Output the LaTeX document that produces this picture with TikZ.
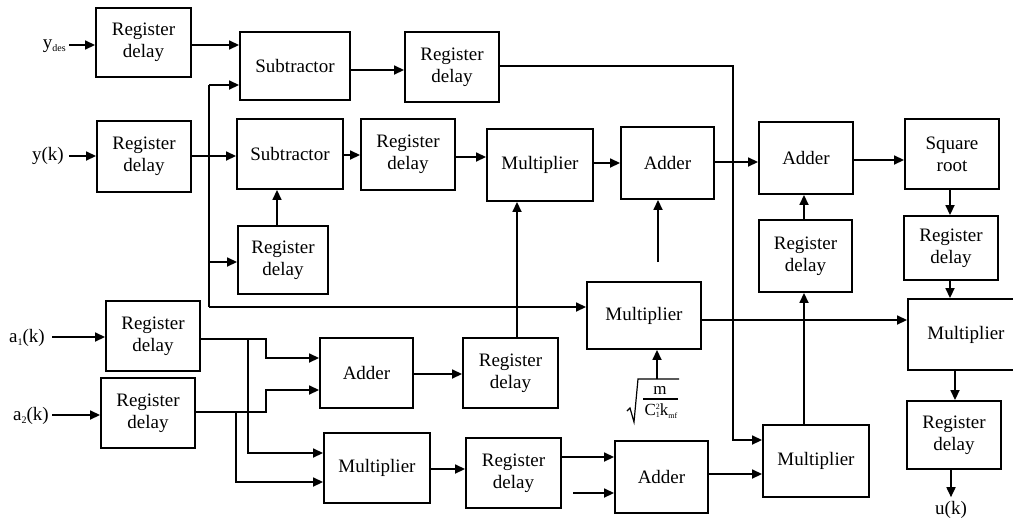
\documentclass[tikz,border=0pt]{standalone}
\usepackage{fontspec}
\setmainfont{Liberation Serif}
\usetikzlibrary{arrows.meta}
\newcommand\mybx[6]{%
  \pgfmathsetmacro\mybxcx{(#2+#4)/2}\pgfmathsetmacro\mybxcy{(#3+#5)/2}%
  \pgfmathsetmacro\mybxw{#4-#2}\pgfmathsetmacro\mybxh{#5-#3}%
  \node[blk,minimum width=\mybxw pt,minimum height=\mybxh pt] (#1) at (\mybxcx,\mybxcy) {#6};}
\begin{document}
\begin{tikzpicture}[x=1pt,y=-1pt,
  blk/.style={draw,line width=1.9pt,align=center,inner sep=0pt,font=\fontsize{19}{22}\selectfont},
  lbl/.style={inner sep=0pt,font=\fontsize{19}{22}\selectfont},
  ln/.style={line width=1.7pt},
  arr/.style={line width=1.7pt,-{Triangle[length=10pt,width=9pt]}}]
\useasboundingbox (0,0) rectangle (1013,520);
\clip (0,0) rectangle (1013,520);
% boxes
\mybx{rd1}{96}{8}{191}{77}{Register\\delay}
\mybx{sub1}{240}{32}{350}{100}{Subtractor}
\mybx{rd2}{405}{32}{499}{102}{Register\\delay}
\mybx{rdy}{97}{121}{191}{192}{Register\\delay}
\mybx{sub2}{237}{119}{343}{189}{Subtractor}
\mybx{rd3}{238}{226}{328}{294}{Register\\delay}
\mybx{rd4}{361}{119}{455}{190}{Register\\delay}
\mybx{mult1}{487}{129}{593}{201}{Multiplier}
\mybx{add1}{621}{127}{714}{199}{Adder}
\mybx{add2}{759}{122}{853}{194}{Adder}
\mybx{sqr}{905}{119}{999}{189}{Square\\root}
\mybx{rd5}{759}{220}{852}{292}{Register\\delay}
\mybx{rd6}{904}{216}{998}{280}{Register\\delay}
\mybx{multm}{587}{282}{701}{349}{Multiplier}
\mybx{multr}{908}{299}{1024}{370}{Multiplier}
\mybx{rda1}{106}{301}{200}{371}{Register\\delay}
\mybx{rda2}{101}{378}{195}{448}{Register\\delay}
\mybx{addm}{320}{338}{413}{408}{Adder}
\mybx{multbl}{324}{433}{430}{503}{Multiplier}
\mybx{rd7}{463}{338}{558}{408}{Register\\delay}
\mybx{rd8}{466}{438}{561}{508}{Register\\delay}
\mybx{addb}{615}{441}{708}{513}{Adder}
\mybx{multb}{763}{425}{869}{497}{Multiplier}
\mybx{rd9}{907}{401}{1001}{469}{Register\\delay}
% labels
\node[lbl,anchor=east] (ydes) at (66,46) {y\raisebox{-3pt}{\fontsize{10}{10}\selectfont des}};
\node[lbl,anchor=east] (yk) at (64,156) {y(k)};
\node[lbl,anchor=east] (a1) at (45,338) {a\raisebox{-3pt}{\fontsize{10}{10}\selectfont 1}(k)};
\node[lbl,anchor=east] (a2) at (49,416) {a\raisebox{-3pt}{\fontsize{10}{10}\selectfont 2}(k)};
\node[lbl] (uk) at (951,510) {u(k)};
% square-root constant
\node[inner sep=0pt,font=\fontsize{17}{17}\selectfont] (num) at (660,390) {m};
\node[inner sep=0pt,font=\fontsize{17}{17}\selectfont] (den) at (661,411)
  {C\rlap{\raisebox{6pt}{\fontsize{8}{8}\selectfont 2}}\raisebox{-2pt}{\fontsize{8}{8}\selectfont 1}k\raisebox{-3pt}{\fontsize{8}{8}\selectfont mf}};
\draw[line width=1.3pt] (643,399) -- (678,399);
\draw[line width=1.2pt,line join=miter] (627,411) -- (630,408) -- (634,422) -- (638,379) -- (679,379);
% coordinates
\coordinate (sqtop) at (657,379);
\coordinate (j0) at (209,85);
\coordinate (j4) at (209,307);
\coordinate (j2) at (209,262);
\coordinate (c1) at (733,66);
\coordinate (c2) at (733,440);
\coordinate (f1) at (658,262);
\coordinate (f2) at (573,493);
\coordinate (ja1) at (248,339);
\coordinate (ja2) at (236,412);
\coordinate (ka1) at (266,339);
\coordinate (ka2) at (266,412);
% connectors
\draw[arr,shorten <=3pt] (ydes.east |- 0,45) -- (rd1.west |- 0,45);
\draw[arr,shorten <=5pt] (yk.east |- 0,156) -- (rdy.west |- 0,156);
\draw[arr,shorten <=7pt] (a1.east |- 0,337) -- (rda1.west |- 0,337);
\draw[arr,shorten <=3pt] (a2.east |- 0,415) -- (rda2.west |- 0,415);
\draw[arr] (rd1.east |- 0,45) -- (sub1.west |- 0,45);
\draw[arr] (j0) -- (sub1.west |- j0);
\draw[ln] (j0) -- (j4);
\draw[arr] (rdy.east |- 0,156) -- (sub2.west |- 0,156);
\draw[arr] (j2) -- (rd3.west |- j2);
\draw[arr] (j4) -- (multm.west |- j4);
\draw[arr] (rd3.north -| 277,0) -- (sub2.south -| 277,0);
\draw[arr] (sub1.east |- 0,70) -- (rd2.west |- 0,70);
\draw[arr] (rd2.east |- c1) -- (c1) -- (c2) -- (multb.west |- c2);
\draw[arr] (sub2.east |- 0,155) -- (rd4.west |- 0,155);
\draw[arr] (rd4.east |- 0,157) -- (mult1.west |- 0,157);
\draw[arr] (mult1.east |- 0,163) -- (add1.west |- 0,163);
\draw[arr] (add1.east |- 0,162) -- (add2.west |- 0,162);
\draw[arr] (add2.east |- 0,160) -- (sqr.west |- 0,160);
\draw[arr] (rd5.north -| 804,0) -- (add2.south -| 804,0);
\draw[arr] (sqr.south -| 950,0) -- (rd6.north -| 950,0);
\draw[arr] (rd6.south -| 950,0) -- (multr.north -| 950,0);
\draw[arr] (multr.south -| 955,0) -- (rd9.north -| 955,0);
\draw[arr,shorten >=4pt] (rd9.south -| uk.north) -- (uk.north);
\draw[arr] (multm.east |- 0,320) -- (multr.west |- 0,320);
\draw[arr] (f1) -- (add1.south -| f1);
\draw[arr] (rd7.north -| 517,0) -- (mult1.south -| 517,0);
\draw[arr] (sqtop) -- (multm.south -| sqtop);
\draw[arr] (multb.north -| 804,0) -- (rd5.south -| 804,0);
\draw[arr] (addb.east |- 0,474) -- (multb.west |- 0,474);
\draw[arr] (rd8.east |- 0,457) -- (addb.west |- 0,457);
\draw[arr] (f2) -- (addb.west |- f2);
\draw[arr] (multbl.east |- 0,469) -- (rd8.west |- 0,469);
\draw[arr] (addm.east |- 0,374) -- (rd7.west |- 0,374);
\draw[arr] (rda1.east |- ja1) -- (ka1) -- (266,358) -- (addm.west |- 0,358);
\draw[arr] (ja1) -- (248,453) -- (multbl.west |- 0,453);
\draw[arr] (rda2.east |- ja2) -- (ka2) -- (266,390) -- (addm.west |- 0,390);
\draw[arr] (ja2) -- (236,482) -- (multbl.west |- 0,482);
\end{tikzpicture}
\end{document}
